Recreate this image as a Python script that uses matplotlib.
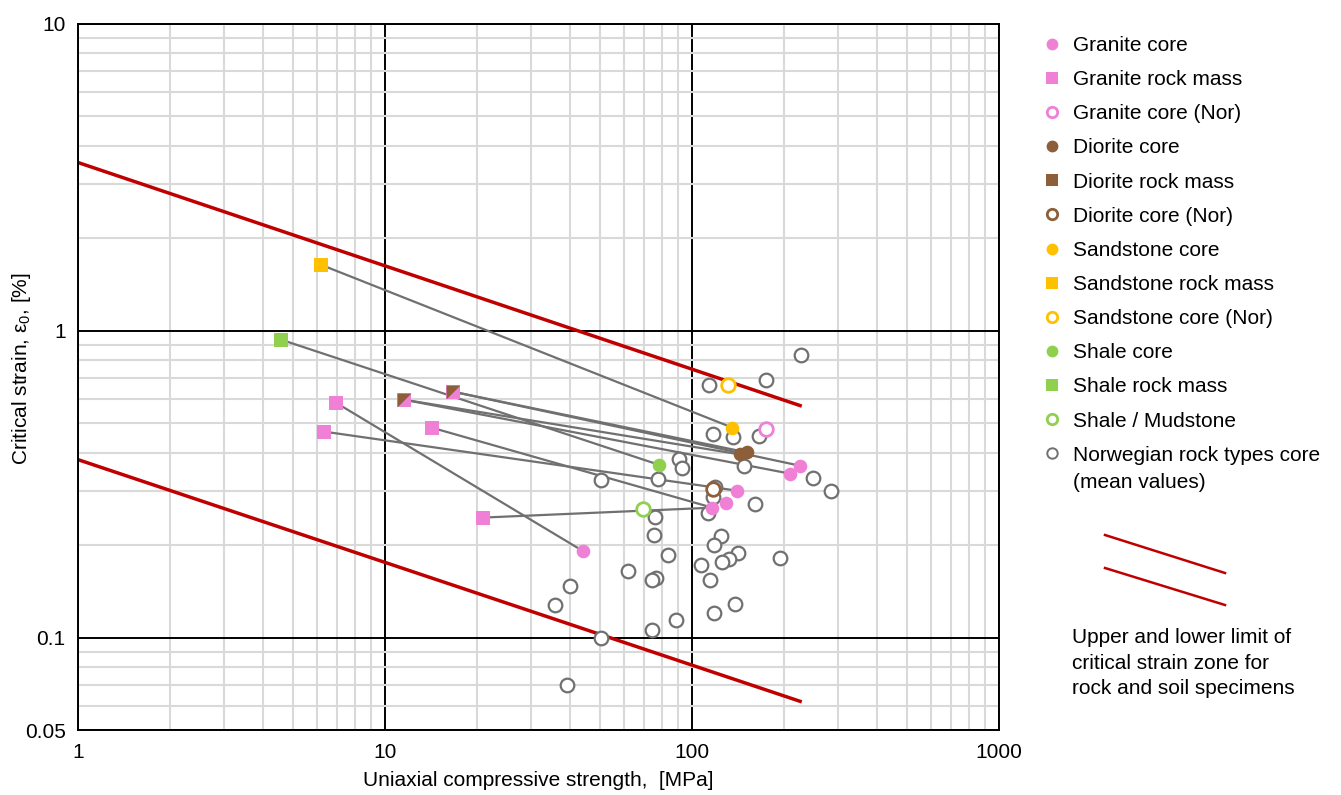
import matplotlib
matplotlib.use("Agg")
import matplotlib.pyplot as plt
from matplotlib.lines import Line2D
from matplotlib.path import Path
import numpy as np

plt.rcParams['font.family'] = ['Liberation Sans', 'DejaVu Sans']
plt.rcParams['mathtext.fontset'] = 'custom'
plt.rcParams['mathtext.rm'] = 'Liberation Sans'
plt.rcParams['mathtext.it'] = 'Liberation Sans'

# ---------------- data ----------------
granite_core_x = [225, 209, 140.5, 129.4, 116.5, 44.3]
granite_core_y = [0.363, 0.342, 0.301, 0.275, 0.265, 0.191]
granite_mass_x = [6.91, 6.32, 14.2, 20.8]
granite_mass_y = [0.583, 0.469, 0.483, 0.246]
granite_nor_x = [174.6]
granite_nor_y = [0.479]

diorite_core_x = [143.7, 151.4]
diorite_core_y = [0.395, 0.401]
diorite_mass_x = [11.5, 16.6]          # shared granite/diorite rock mass
diorite_mass_y = [0.596, 0.633]
diorite_nor_x = [117.4]
diorite_nor_y = [0.306]

sandstone_core_x = [135.4]
sandstone_core_y = [0.483]
sandstone_mass_x = [6.18]
sandstone_mass_y = [1.64]
sandstone_nor_x = [131]
sandstone_nor_y = [0.667]

shale_core_x = [77.8]
shale_core_y = [0.366]
shale_mass_x = [4.58]
shale_mass_y = [0.935]
shale_mud_x = [69]
shale_mud_y = [0.263]

norwegian_x = [226.5, 174.2, 113.4, 117.1, 135.7, 165.7, 91.0, 92.9, 148.1, 247,
               283.6, 50.6, 77.7, 119.2, 116.8, 112.5, 160.8, 76.0, 75.4, 124.6,
               118.3, 83.4, 141.3, 132.4, 125.3, 107.1, 194, 61.8, 76.6, 73.9,
               114.4, 40.1, 35.9, 138.1, 117.7, 89.0, 73.9, 50.7, 39.3]
norwegian_y = [0.835, 0.692, 0.663, 0.462, 0.4506, 0.455, 0.383, 0.357, 0.361, 0.330,
               0.2997, 0.3253, 0.328, 0.309, 0.2864, 0.254, 0.273, 0.247, 0.2165, 0.2149,
               0.2004, 0.1854, 0.1888, 0.1809, 0.176, 0.172, 0.1815, 0.165, 0.1565, 0.1539,
               0.1545, 0.147, 0.1278, 0.1288, 0.1203, 0.1145, 0.1062, 0.0995, 0.0703]

# connections rock mass -> core  ((x0, y0), (x1, y1))
links = [
    ((sandstone_mass_x[0], sandstone_mass_y[0]), (sandstone_core_x[0], sandstone_core_y[0])),
    ((shale_mass_x[0], shale_mass_y[0]), (shale_core_x[0], shale_core_y[0])),
    ((granite_mass_x[0], granite_mass_y[0]), (granite_core_x[5], granite_core_y[5])),
    ((granite_mass_x[1], granite_mass_y[1]), (granite_core_x[2], granite_core_y[2])),
    ((granite_mass_x[2], granite_mass_y[2]), (granite_core_x[4], granite_core_y[4])),
    ((granite_mass_x[3], granite_mass_y[3]), (granite_core_x[4], granite_core_y[4])),
    ((diorite_mass_x[0], diorite_mass_y[0]), (diorite_core_x[0], diorite_core_y[0])),
    ((diorite_mass_x[0], diorite_mass_y[0]), (granite_core_x[1], granite_core_y[1])),
    ((diorite_mass_x[1], diorite_mass_y[1]), (diorite_core_x[1], diorite_core_y[1])),
    ((diorite_mass_x[1], diorite_mass_y[1]), (granite_core_x[0], granite_core_y[0])),
]

# limit lines of critical strain zone
upper_x = [1, 225]
upper_y = [3.53, 0.57]
lower_x = [1, 225]
lower_y = [0.38, 0.062]

# ---------------- style ----------------
PINK = '#F07FD6'
BROWN = '#8C5E3A'
YELLOW = '#FFC000'
GREEN = '#8FD14F'
GRAY = '#707070'
RED = '#C00000'
MS = 9.8
FS = 15

fig = plt.figure(figsize=(13.41, 7.95), dpi=100)
ax = fig.add_axes([78/1341, 1-730/795, (999-78)/1341, (730-23.7)/795])
ax.set_xscale('log')
ax.set_yscale('log')
ax.set_xlim(1, 1000)
ax.set_ylim(0.05, 10)

ax.grid(which='minor', color='#D9D9D9', lw=1.5, zorder=0)
ax.grid(which='major', color='black', lw=1.4, zorder=0.5)
ax.set_axisbelow(True)
for s in ax.spines.values():
    s.set_linewidth(1.4)
ax.tick_params(which='both', length=0, labelsize=FS, pad=9)
ax.set_xticks([1, 10, 100, 1000])
ax.set_xticklabels(['1', '10', '100', '1000'])
ax.set_yticks([0.05, 0.1, 1, 10])
ax.set_yticklabels(['0.05', '0.1', '1', '10'])
ax.xaxis.set_minor_formatter(plt.NullFormatter())
ax.yaxis.set_minor_formatter(plt.NullFormatter())

ax.set_xlabel('Uniaxial compressive strength,  [MPa]', fontsize=FS, labelpad=7)
fig.text(22/1341, 1-369/795, 'Critical strain, ε$_0$, [%]', fontsize=FS,
         rotation=90, ha='center', va='center')

# limit lines
ax.plot(upper_x, upper_y, color=RED, lw=2.5, zorder=2)
ax.plot(lower_x, lower_y, color=RED, lw=2.5, zorder=2)

# connection lines
for (x0, y0), (x1, y1) in links:
    ax.plot([x0, x1], [y0, y1], color=GRAY, lw=1.6, zorder=3)

# markers
ax.plot(norwegian_x, norwegian_y, 'o', ms=MS, mfc='white', mec=GRAY, mew=1.6, zorder=4)
ax.plot(granite_core_x, granite_core_y, 'o', ms=MS, color=PINK, mew=0, zorder=5)
ax.plot(granite_mass_x, granite_mass_y, 's', ms=MS, color=PINK, mew=0, zorder=5)
ax.plot(granite_nor_x, granite_nor_y, 'o', ms=MS, mfc='white', mec=PINK, mew=2, zorder=5)
ax.plot(diorite_core_x, diorite_core_y, 'o', ms=MS, color=BROWN, mew=0, zorder=5)
ax.plot(diorite_mass_x, diorite_mass_y, 's', ms=MS, color=PINK, mew=0, zorder=5)
tri = Path([(-1, -1), (-1, 1), (1, 1), (-1, -1)])
ax.plot(diorite_mass_x, diorite_mass_y, marker=tri, ls='none', ms=MS, color=BROWN, mew=0, zorder=6)
ax.plot(diorite_nor_x, diorite_nor_y, 'o', ms=MS, mfc='white', mec=BROWN, mew=2, zorder=5)
ax.plot(sandstone_core_x, sandstone_core_y, 'o', ms=MS, color=YELLOW, mew=0, zorder=5)
ax.plot(sandstone_mass_x, sandstone_mass_y, 's', ms=MS, color=YELLOW, mew=0, zorder=5)
ax.plot(sandstone_nor_x, sandstone_nor_y, 'o', ms=MS, mfc='white', mec=YELLOW, mew=2, zorder=5)
ax.plot(shale_core_x, shale_core_y, 'o', ms=MS, color=GREEN, mew=0, zorder=5)
ax.plot(shale_mass_x, shale_mass_y, 's', ms=MS, color=GREEN, mew=0, zorder=5)
ax.plot(shale_mud_x, shale_mud_y, 'o', ms=MS, mfc='white', mec=GREEN, mew=2, zorder=5)

# legend
LMS = 8.5
handles = [
    Line2D([], [], ls='none', marker='o', ms=LMS, color=PINK, mew=0),
    Line2D([], [], ls='none', marker='s', ms=LMS-0.5, color=PINK, mew=0),
    Line2D([], [], ls='none', marker='o', ms=LMS-1, mfc='white', mec=PINK, mew=2),
    Line2D([], [], ls='none', marker='o', ms=LMS, color=BROWN, mew=0),
    Line2D([], [], ls='none', marker='s', ms=LMS-0.5, color=BROWN, mew=0),
    Line2D([], [], ls='none', marker='o', ms=LMS-1, mfc='white', mec=BROWN, mew=2),
    Line2D([], [], ls='none', marker='o', ms=LMS, color=YELLOW, mew=0),
    Line2D([], [], ls='none', marker='s', ms=LMS-0.5, color=YELLOW, mew=0),
    Line2D([], [], ls='none', marker='o', ms=LMS-1, mfc='white', mec=YELLOW, mew=2),
    Line2D([], [], ls='none', marker='o', ms=LMS, color=GREEN, mew=0),
    Line2D([], [], ls='none', marker='s', ms=LMS-0.5, color=GREEN, mew=0),
    Line2D([], [], ls='none', marker='o', ms=LMS-1, mfc='white', mec=GREEN, mew=2),
    Line2D([], [], ls='none', marker='o', ms=LMS-1, mfc='white', mec=GRAY, mew=1.4),
]
labels = ['Granite core', 'Granite rock mass', 'Granite core (Nor)',
          'Diorite core', 'Diorite rock mass', 'Diorite core (Nor)',
          'Sandstone core', 'Sandstone rock mass', 'Sandstone core (Nor)',
          'Shale core', 'Shale rock mass', 'Shale / Mudstone',
          'Norwegian rock types core']
leg = fig.legend(handles, labels, loc='upper left',
                 bbox_to_anchor=(1041.6/1341, 1-36/795),
                 frameon=False, fontsize=FS, handlelength=1.0, handletextpad=0.5,
                 labelspacing=0.727, borderaxespad=0, borderpad=0)

fig.canvas.draw()
renderer = fig.canvas.get_renderer()
bb = leg.get_texts()[-1].get_window_extent(renderer)
fig.text(bb.x0/1341, (bb.y0 - 27 + bb.height/2)/795, '(mean values)', fontsize=FS,
         ha='left', va='center')

# limit-line legend
fig.add_artist(Line2D([1105/1341, 1225/1341], [1-535/795, 1-573/795], color=RED, lw=1.8))
fig.add_artist(Line2D([1105/1341, 1225/1341], [1-568/795, 1-605/795], color=RED, lw=1.8))
fig.text(1072/1341, 1-628/795,
         'Upper and lower limit of\ncritical strain zone for\nrock and soil specimens',
         fontsize=FS, va='top', ha='left', linespacing=1.45)

fig.savefig('out.png', dpi=100)
